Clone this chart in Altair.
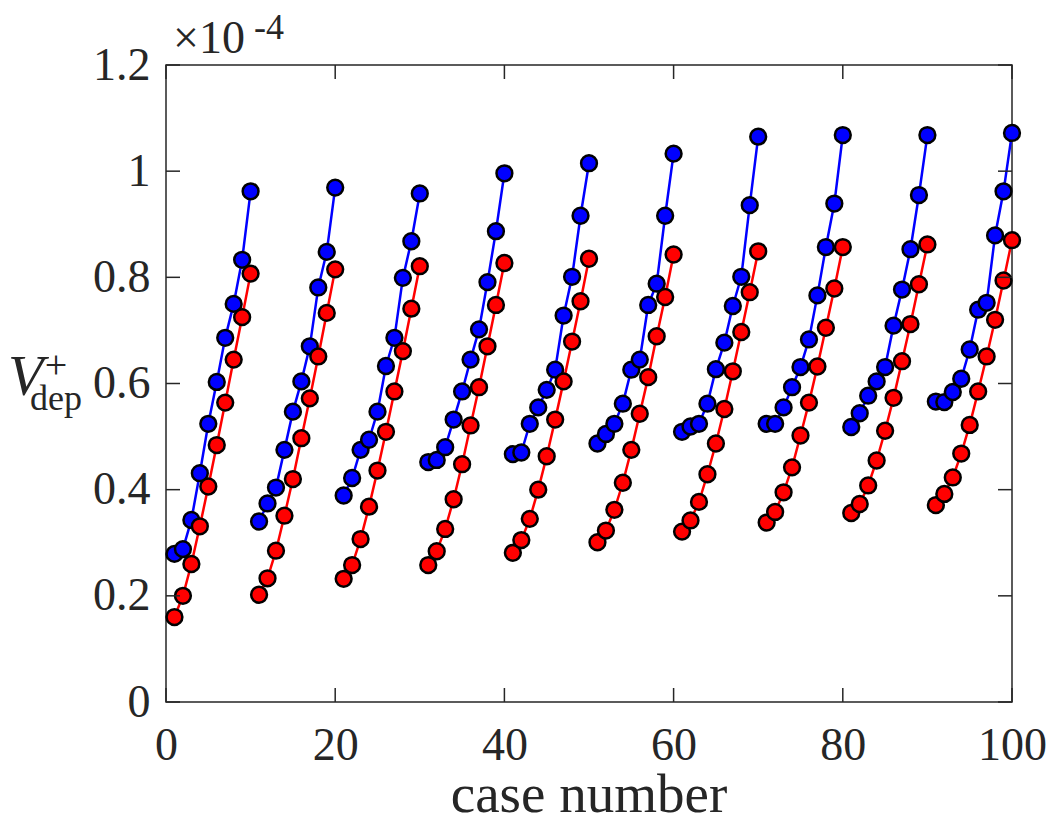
import altair as alt
import pandas as pd

# values in units of 1e-4
case_numbers = list(range(1, 101))

blue_values = [
    0.279, 0.288, 0.343, 0.431, 0.524, 0.603, 0.686, 0.750, 0.833, 0.962,
    0.340, 0.374, 0.404, 0.475, 0.547, 0.604, 0.670, 0.781, 0.848, 0.969,
    0.389, 0.422, 0.475, 0.494, 0.547, 0.633, 0.686, 0.799, 0.868, 0.958,
    0.452, 0.456, 0.480, 0.532, 0.585, 0.645, 0.702, 0.791, 0.887, 0.996,
    0.467, 0.470, 0.524, 0.555, 0.588, 0.626, 0.728, 0.801, 0.916, 1.015,
    0.487, 0.505, 0.524, 0.562, 0.626, 0.645, 0.748, 0.788, 0.916, 1.033,
    0.509, 0.519, 0.524, 0.562, 0.627, 0.677, 0.746, 0.801, 0.936, 1.065,
    0.524, 0.524, 0.555, 0.593, 0.631, 0.683, 0.766, 0.857, 0.939, 1.068,
    0.518, 0.544, 0.577, 0.604, 0.631, 0.709, 0.777, 0.853, 0.955, 1.068,
    0.566, 0.565, 0.584, 0.609, 0.664, 0.739, 0.752, 0.879, 0.962, 1.072,
]

red_values = [
    0.160, 0.200, 0.260, 0.331, 0.406, 0.484, 0.564, 0.645, 0.725, 0.807,
    0.202, 0.233, 0.285, 0.351, 0.420, 0.497, 0.572, 0.651, 0.733, 0.815,
    0.232, 0.258, 0.307, 0.368, 0.436, 0.509, 0.585, 0.661, 0.741, 0.821,
    0.258, 0.284, 0.326, 0.382, 0.448, 0.521, 0.593, 0.670, 0.748, 0.827,
    0.281, 0.305, 0.345, 0.400, 0.463, 0.532, 0.604, 0.679, 0.755, 0.835,
    0.301, 0.323, 0.362, 0.413, 0.475, 0.543, 0.612, 0.689, 0.763, 0.843,
    0.321, 0.342, 0.377, 0.429, 0.487, 0.552, 0.623, 0.697, 0.772, 0.849,
    0.338, 0.358, 0.395, 0.442, 0.502, 0.564, 0.632, 0.705, 0.779, 0.857,
    0.356, 0.373, 0.408, 0.455, 0.511, 0.573, 0.642, 0.712, 0.787, 0.862,
    0.371, 0.392, 0.423, 0.468, 0.522, 0.585, 0.651, 0.720, 0.794, 0.870,
]

x_tick_values = [0, 20, 40, 60, 80, 100]
y_tick_values = [0, 0.2, 0.4, 0.6, 0.8, 1.0, 1.2]

W, H = 846, 637
FONT = "Liberation Serif"
AX = "#262626"

rows = []
for series, vals in (("blue", blue_values), ("red", red_values)):
    for c, v in zip(case_numbers, vals):
        rows.append({"case": c, "value": v, "series": series, "group": (c - 1) // 10})
df = pd.DataFrame(rows)

xscale = alt.Scale(domain=[0, 100], nice=False, zero=False)
yscale = alt.Scale(domain=[0, 1.2], nice=False, zero=False)

xaxis = alt.Axis(values=x_tick_values, title=None, ticks=False, tickSize=0, domain=False,
                 grid=False, labelFont=FONT, labelFontSize=46, labelColor=AX,
                 labelPadding=21, labelFlush=False)
yaxis = alt.Axis(values=y_tick_values, title=None, ticks=False, tickSize=0, domain=False,
                 grid=False, labelFont=FONT, labelFontSize=46, labelColor=AX,
                 labelPadding=16, format="~g")

base = alt.Chart(df)

layers = []
for series, col in (("blue", "#0000ff"), ("red", "#ff0000")):
    sub = base.transform_filter(alt.datum.series == series)
    line = sub.mark_line(color=col, strokeWidth=2.5).encode(
        x=alt.X("case:Q", scale=xscale, axis=xaxis),
        y=alt.Y("value:Q", scale=yscale, axis=yaxis),
        detail="group:N",
    )
    pts = sub.mark_point(shape="circle", filled=True, fill=col, stroke="black",
                         strokeWidth=2.5, size=250, opacity=1).encode(
        x=alt.X("case:Q", scale=xscale, axis=xaxis),
        y=alt.Y("value:Q", scale=yscale, axis=yaxis),
    )
    layers += [line, pts]

xt = alt.Chart(pd.DataFrame({"xt": x_tick_values}))
yt = alt.Chart(pd.DataFrame({"yt": y_tick_values}))
tick_style = dict(color=AX, thickness=1.5, size=14, opacity=1)
bottom_ticks = xt.mark_tick(orient="vertical", **tick_style).encode(
    x=alt.X("xt:Q", scale=xscale, axis=xaxis), y=alt.value(H - 7))
top_ticks = xt.mark_tick(orient="vertical", **tick_style).encode(
    x=alt.X("xt:Q", scale=xscale, axis=xaxis), y=alt.value(7))
left_ticks = yt.mark_tick(orient="horizontal", **tick_style).encode(
    y=alt.Y("yt:Q", scale=yscale, axis=yaxis), x=alt.value(7))
right_ticks = yt.mark_tick(orient="horizontal", **tick_style).encode(
    y=alt.Y("yt:Q", scale=yscale, axis=yaxis), x=alt.value(W - 7))


def label(txt, x, y, size, align="left", baseline="alphabetic", style="normal"):
    return alt.Chart(pd.DataFrame({"t": [txt]})).mark_text(
        font=FONT, fontSize=size, color=AX, align=align, baseline=baseline,
        fontStyle=style,
    ).encode(text="t:N", x=alt.value(x), y=alt.value(y))


texts = [
    label("case number", W / 2, 747, 55, align="center"),
    label("V", -158, 330, 58, style="italic"),
    label("+", -110, 301, 40, align="center", baseline="middle"),
    label("dep", -136, 345, 36),
    label("×10", 7, -12, 46),
    label("-4", 88, -26, 36),
]

chart = alt.layer(
    *layers, bottom_ticks, top_ticks, left_ticks, right_ticks, *texts
).properties(
    width=W, height=H,
    background="white",
    autosize=alt.AutoSizeParams(type="none"),
    padding={"left": 158, "top": 57, "right": 38, "bottom": 120},
).configure_view(stroke=AX, strokeWidth=1.5)

chart.save("out.html", embed_options={"renderer": "svg", "actions": False})
